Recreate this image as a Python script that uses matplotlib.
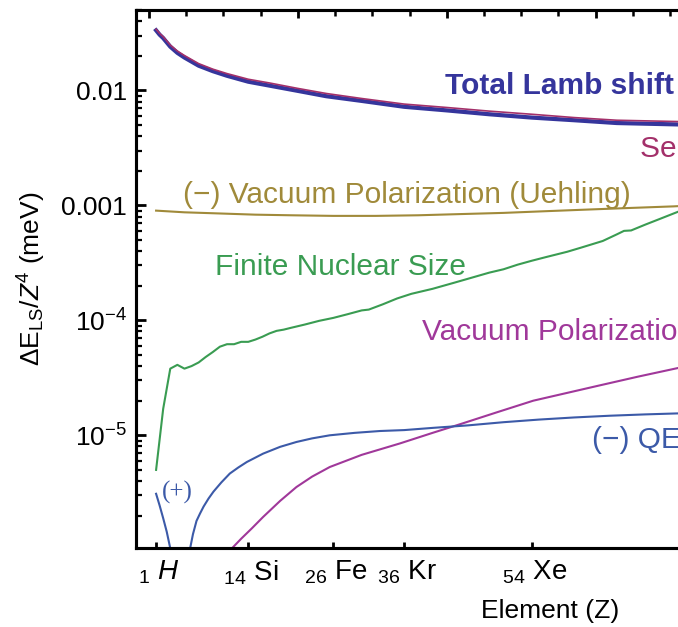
import numpy as np
import matplotlib
matplotlib.use("Agg")
from matplotlib import pyplot as plt
from matplotlib.ticker import LogLocator, NullFormatter

plt.rcParams['font.family'] = ['Liberation Sans', 'DejaVu Sans']
plt.rcParams['mathtext.fontset'] = 'custom'
plt.rcParams['mathtext.rm'] = 'Liberation Sans'
plt.rcParams['mathtext.it'] = 'Liberation Sans:italic'
plt.rcParams['mathtext.bf'] = 'Liberation Sans:bold'

# Lamb shift contributions, Delta E_LS / Z^4 (meV)
z_tot = [1, 1.5, 2, 3, 4, 5, 7, 9, 11, 14, 17, 21, 25, 30, 36, 42, 48, 54, 60, 66, 72, 78]
lamb_total = [0.0333, 0.0305, 0.0285, 0.0240, 0.0212, 0.0193, 0.0164, 0.0147, 0.0134, 0.0119,
              0.0110, 0.0099, 0.0089, 0.0081, 0.0072, 0.0067, 0.0062, 0.0058, 0.0055, 0.0052,
              0.0051, 0.0050]
self_energy = [0.0340, 0.0313, 0.0293, 0.0248, 0.0220, 0.0201, 0.0171, 0.0153, 0.0140, 0.0125,
               0.0116, 0.0104, 0.0094, 0.0085, 0.0076, 0.0071, 0.0066, 0.0062, 0.0058, 0.0055,
               0.0054, 0.0053]

z_ueh = [1, 5, 10, 15, 20, 26, 32, 38, 44, 50, 56, 62, 68, 74, 78]
uehling = [0.00090, 0.00087, 0.00085, 0.00083, 0.00082, 0.00081, 0.00081, 0.00082,
           0.00084, 0.00086, 0.00089, 0.00092, 0.00095, 0.00098, 0.00101]

z_fns = [1, 2, 3, 4, 5, 6, 7, 8, 9, 10, 11, 12, 13, 14, 15, 16, 17, 18, 19, 20, 22, 24, 26, 28,
         30, 31, 33, 35, 37, 40, 43, 45, 48, 50, 52, 54, 56, 59, 61, 64, 66, 67, 68, 70, 72, 74, 76]
fns = [5.0e-6, 1.7e-5, 3.8e-5, 4.1e-5, 3.8e-5, 4.0e-5, 4.3e-5, 4.8e-5, 5.3e-5, 5.9e-5, 6.2e-5,
       6.2e-5, 6.5e-5, 6.5e-5, 6.8e-5, 7.2e-5, 7.7e-5, 8.1e-5, 8.3e-5, 8.6e-5, 9.2e-5, 9.9e-5,
       1.05e-4, 1.13e-4, 1.22e-4, 1.24e-4, 1.38e-4, 1.55e-4, 1.70e-4, 1.88e-4, 2.12e-4, 2.30e-4,
       2.60e-4, 2.78e-4, 3.05e-4, 3.3e-4, 3.55e-4, 3.95e-4, 4.3e-4, 4.9e-4, 5.6e-4, 6.0e-4,
       6.05e-4, 6.8e-4, 7.6e-4, 8.5e-4, 9.5e-4]

z_vp = [11.3, 11.7, 13, 14.5, 16.1, 18.5, 20.8, 23, 25.5, 30, 35.4, 40, 43.9, 49, 54.2, 59,
        63.6, 69, 74.2, 78]
vac_pol = [9.2e-7, 1.04e-6, 1.26e-6, 1.55e-6, 1.95e-6, 2.69e-6, 3.55e-6, 4.37e-6, 5.3e-6,
           6.76e-6, 8.5e-6, 1.05e-5, 1.25e-5, 1.58e-5, 2.0e-5, 2.34e-5, 2.72e-5, 3.24e-5,
           3.8e-5, 4.27e-5]

z_qed_pos = [1, 1.5, 2, 2.5, 3, 3.3]
qed_pos = [3.1e-6, 2.45e-6, 1.9e-6, 1.45e-6, 1.04e-6, 8.5e-7]
z_qed_neg = [5.5, 5.8, 6.2, 6.7, 7.2, 7.7, 8.4, 9.1, 10.2, 11.4, 12.6, 13.8, 16.1, 18.5, 20.8,
             23, 25.5, 29, 32.6, 36, 40, 45, 50, 55, 60, 65, 70, 76]
qed_neg = [8.5e-7, 1.04e-6, 1.38e-6, 1.8e-6, 2.09e-6, 2.4e-6, 2.82e-6, 3.24e-6, 3.89e-6,
           4.65e-6, 5.25e-6, 5.86e-6, 6.93e-6, 7.94e-6, 8.75e-6, 9.4e-6, 1.0e-5, 1.05e-5,
           1.09e-5, 1.11e-5, 1.16e-5, 1.22e-5, 1.3e-5, 1.37e-5, 1.43e-5, 1.48e-5, 1.52e-5, 1.56e-5]

elem_z = [1, 14, 26, 36, 54]
# leading space nudges each label a little right of its tick
elem_labels = [r"$\;{}_{1}\,\,\mathit{H}$", r"$\;{}_{14}\,\,\mathrm{Si}$",
               r"$\;{}_{26}\,\,\mathrm{Fe}$", r"$\;{}_{36}\,\,\mathrm{Kr}$",
               r"$\;{}_{54}\,\,\mathrm{Xe}$"]

c_total = "#35359c"
c_self = "#a3306a"
c_ueh = "#a08a3a"
c_fns = "#3a9c52"
c_vp = "#a0389a"
c_qed = "#3c5aa8"

fig = plt.figure(figsize=(6.78, 6.27), dpi=100)
# axes runs past the right edge of the figure, as in the cropped original
ax = fig.add_axes([0.1999, 0.1255, 1.2224, 0.8585])
top = ax.twiny()

ax.plot(z_tot, lamb_total, color=c_total, lw=3.0)
ax.plot(z_tot, self_energy, color=c_self, lw=1.2)
ax.plot(z_ueh, uehling, color=c_ueh, lw=1.5)
ax.plot(z_fns, fns, color=c_fns, lw=1.5)
ax.plot(z_vp, vac_pol, color=c_vp, lw=1.5)
ax.plot(z_qed_pos, qed_pos, color=c_qed, lw=1.5)
ax.plot(z_qed_neg, qed_neg, color=c_qed, lw=1.5)

ax.set_yscale('log')
ax.set_xlim(-1.9, 115)
ax.set_ylim(1.04e-6, 0.05)

ax.set_yticks([1e-5, 1e-4, 1e-3, 1e-2])
ax.set_yticklabels([r"$10^{-5}$", r"$10^{-4}$", "0.001", "0.01"])
ax.yaxis.set_minor_locator(LogLocator(base=10, subs=np.arange(2, 10)))
ax.yaxis.set_minor_formatter(NullFormatter())
ax.set_xticks(elem_z)
ax.set_xticklabels(elem_labels)

ax.tick_params(axis='y', which='major', direction='in', length=7, width=2.0, labelsize=19, pad=6)
ax.tick_params(axis='y', which='minor', direction='in', length=4, width=1.6)
ax.tick_params(axis='x', which='major', direction='in', length=4.5, width=2.0, labelsize=20,
               pad=7, bottom=True, top=False)
ax.tick_params(right=False)
for s in ax.spines.values():
    s.set_linewidth(2.2)

# top frame ticks on their own spacing
top.set_xlim(ax.get_xlim())
top.set_xticks([0, 21, 42, 63, 84, 105])
top.set_xticks(np.arange(0, 115, 5.25), minor=True)
top.tick_params(which='major', direction='in', length=6, width=2.0, labeltop=False)
top.tick_params(which='minor', direction='in', length=4, width=1.8)
for s in top.spines.values():
    s.set_linewidth(2.2)

ax.set_xlabel("Element (Z)", fontsize=19)
ax.xaxis.set_label_coords(0.5, -0.094)
ax.set_ylabel(r"$\Delta\mathrm{E}_{\mathrm{LS}}/Z^4$ (meV)", fontsize=19)
ax.yaxis.set_label_coords(-0.1055, 0.5)

fs = 21.5
ax.text(41.76, 0.00936, "Total Lamb shift", color=c_total, fontsize=fs, fontweight='bold',
        ha='left', va='baseline')
ax.text(69.3, 0.00263, "Self Energy", color=c_self, fontsize=fs, ha='left', va='baseline')
ax.text(4.81, 0.00104, "(\u2212) Vacuum Polarization (Uehling)", color=c_ueh, fontsize=fs,
        ha='left', va='baseline')
ax.text(9.3, 2.46e-4, "Finite Nuclear Size", color=c_fns, fontsize=fs, ha='left', va='baseline')
ax.text(38.47, 6.7e-5, "Vacuum Polarization", color=c_vp, fontsize=fs, ha='left', va='baseline')
ax.text(62.45, 7.7e-6, "(\u2212) QED", color=c_qed, fontsize=fs, ha='left', va='baseline')
ax.text(1.8, 3.19e-6, "(+)", color=c_qed, fontsize=18, family='Liberation Serif',
        ha='left', va='center')

fig.savefig("out.png", dpi=100)
